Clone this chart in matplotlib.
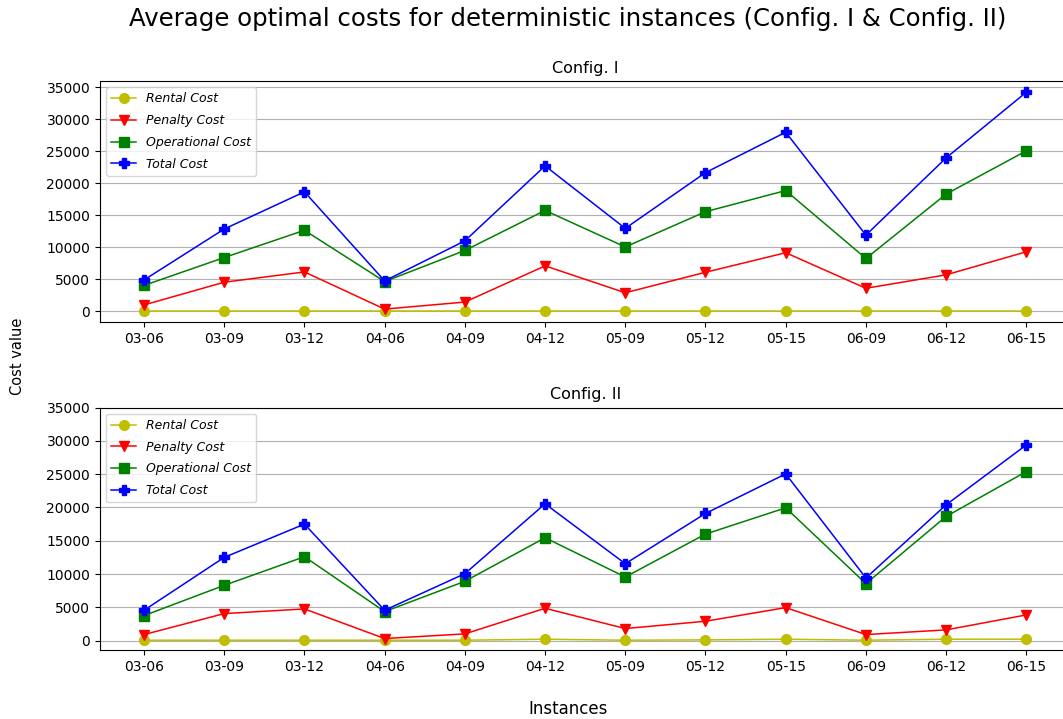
import matplotlib
matplotlib.use("Agg")
import matplotlib.pyplot as plt

instances = ["03-06", "03-09", "03-12", "04-06", "04-09", "04-12",
             "05-09", "05-12", "05-15", "06-09", "06-12", "06-15"]

# Config. I
rental_1 = [30, 30, 30, 30, 30, 30, 30, 30, 30, 30, 30, 30]
penalty_1 = [1000, 4550, 6150, 350, 1450, 7100, 2900, 6100, 9150, 3600, 5700, 9300]
operational_1 = [4050, 8400, 12650, 4650, 9500, 15750, 10050, 15550, 18850, 8250, 18300, 25050]
total_1 = [4900, 12850, 18650, 4750, 11000, 22700, 12950, 21650, 27950, 11900, 23950, 34200]

# Config. II
rental_2 = [50, 50, 50, 50, 50, 200, 50, 100, 200, 50, 200, 200]
penalty_2 = [900, 4050, 4750, 300, 1000, 4850, 1800, 2900, 4950, 900, 1600, 3850]
operational_2 = [3750, 8300, 12600, 4350, 8900, 15450, 9550, 16000, 19950, 8550, 18650, 25400]
total_2 = [4550, 12500, 17500, 4550, 10050, 20550, 11550, 19100, 25050, 9400, 20400, 29400]

configs = [
    ("Config. I", rental_1, penalty_1, operational_1, total_1),
    ("Config. II", rental_2, penalty_2, operational_2, total_2),
]

fig = plt.figure(figsize=(10.63, 7.19), dpi=100)
# the right edge of both panels runs slightly past the picture, as in the original
boxes = [[0.094, 0.552, 0.913, 0.335], [0.094, 0.096, 0.913, 0.337]]

for box, (name, rental, penalty, operational, total) in zip(boxes, configs):
    ax = fig.add_axes(box)
    x = range(len(instances))
    ax.plot(x, rental, "y-o", lw=1.1, ms=7, label="Rental Cost")
    ax.plot(x, penalty, "r-v", lw=1.1, ms=7, label="Penalty Cost")
    ax.plot(x, operational, "g-s", lw=1.1, ms=7, label="Operational Cost")
    ax.plot(x, total, "b-P", lw=1.1, ms=7, label="Total Cost")
    ax.set_xticks(list(x))
    ax.set_xticklabels(instances)
    ax.set_yticks(range(0, 35001, 5000))
    ax.grid(axis="y")
    ax.set_axisbelow(True)
    ax.set_title(name, fontsize=11.5)
    ax.legend(loc="upper left", prop={"style": "italic", "size": 9}, labelspacing=0.7)

fig.suptitle("Average optimal costs for deterministic instances (Config. I & Config. II)",
             fontsize=17.6, x=0.534, y=0.99)
fig.text(0.016, 0.505, "Cost value", rotation=90, ha="center", va="center", fontsize=10.5)
fig.text(0.534, 0.014, "Instances", ha="center", va="center", fontsize=12)

fig.savefig("out.png", dpi=100)
